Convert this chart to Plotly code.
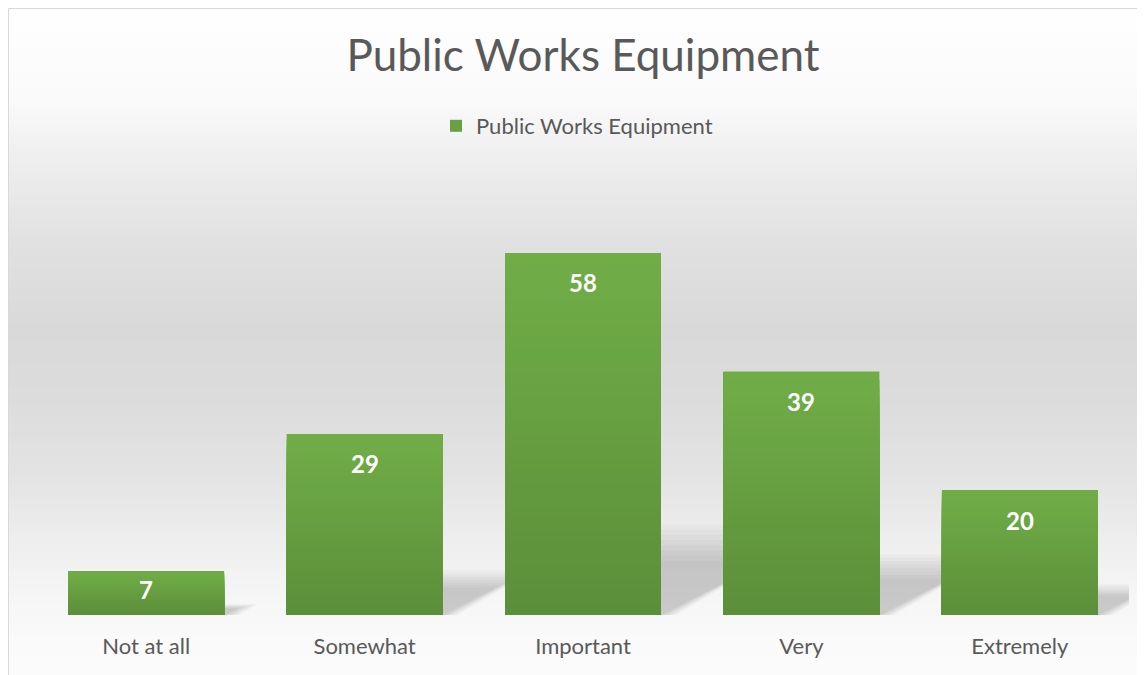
import plotly.graph_objects as go

# ---- data ----
categories = ["Not at all", "Somewhat", "Important", "Very", "Extremely"]
values = [7, 29, 58, 39, 20]
series_name = "Public Works Equipment"
chart_title = "Public Works Equipment"

# ---- geometry / style ----
OFF = 8  # page body margin (screen px -> figure px)
W, H = 1145 - OFF, 675 - OFF
# plot area in screen px: x 37..1129, y 178..615
ML = 37 - OFF
MR = W - (1129 - OFF)
MT = 178 - OFF
MB = H - (615 - OFF)
PW = W - ML - MR
PH = H - MT - MB
Y_MAX = 70
PX_PER_UNIT = PH / Y_MAX
BAR_W = 0.714
FONT = "Lato, 'Open Sans', sans-serif"
TXT = "#595959"
TOP_C = (112, 173, 71)
BOT_C = (92, 143, 58)


def px_to_paper_x(px):  # screen px
    return (px - OFF - ML) / PW


def px_to_paper_y(py):  # screen px
    return (H - MB - (py - OFF)) / PH


def lerp(a, b, t):
    return tuple(round(a[i] + (b[i] - a[i]) * t) for i in range(3))


shapes = []

# background gradient (paper)
bg_stops = [(0, 255), (100, 250), (150, 240), (200, 232), (250, 224), (330, 217),
            (400, 220), (480, 228), (540, 238), (600, 246), (640, 250), (700, 252)]


def bg_gray(py):
    for (y0, g0), (y1, g1) in zip(bg_stops[:-1], bg_stops[1:]):
        if y0 <= py <= y1:
            t = (py - y0) / (y1 - y0)
            return round(g0 + (g1 - g0) * t)
    return bg_stops[-1][1]


step = 4
py = 8
while py < 680:
    g = bg_gray(py + step / 2)
    shapes.append(dict(type="rect", xref="paper", yref="paper", layer="below",
                       x0=px_to_paper_x(8), x1=px_to_paper_x(1150),
                       y0=px_to_paper_y(py + step + 1), y1=px_to_paper_y(py),
                       fillcolor=f"rgb({g},{g},{g})", line=dict(width=0)))
    py += step

# soft perspective shadows behind bars
hw = BAR_W / 2
n_sh = 8
for i, v in enumerate(values):
    for k in range(n_sh):
        f = k / (n_sh - 1)
        top = 0.25 * v * (1.0 - 0.4 * f)
        dx = 0.0105 * v * (1.15 - 0.35 * f)
        xr = i + hw + 0.07 * (1 - f)
        xl = i - hw
        path = (f"M {xl},0 L {xr},0 L {xr + dx},{top} L {xl + dx},{top} Z")
        shapes.append(dict(type="path", xref="x", yref="y", layer="below",
                           path=path, fillcolor="rgba(0,0,0,0.024)",
                           line=dict(width=0)))

# vertical gradient overlay on each bar
n_gr = 30
for i, v in enumerate(values):
    for j in range(n_gr):
        t = j / (n_gr - 1)
        c = lerp(TOP_C, BOT_C, t)
        shapes.append(dict(type="rect", xref="x", yref="y", layer="above",
                           x0=i - hw, x1=i + hw, y0=0, y1=v * (1 - j / n_gr),
                           fillcolor=f"rgb{c}", line=dict(width=0)))

# chart border (left and top edges visible)
shapes.append(dict(type="rect", xref="paper", yref="paper", layer="above",
                   x0=px_to_paper_x(8.5), x1=px_to_paper_x(1170),
                   y0=px_to_paper_y(700), y1=px_to_paper_y(8.5),
                   fillcolor="rgba(0,0,0,0)", line=dict(color="#d9d9d9", width=1)))

x_idx = list(range(len(categories)))

fig = go.Figure()
fig.add_trace(go.Bar(
    x=x_idx, y=values, name=series_name, width=BAR_W,
    marker=dict(color="rgb(104,160,66)", line=dict(width=0)),
    showlegend=True, hoverinfo="skip",
))

annotations = []
for i, v in enumerate(values):
    shift = min(30, v * PX_PER_UNIT / 2 - 4)
    annotations.append(dict(x=i, y=v, xref="x", yref="y", text=f"<b>{v}</b>",
                            showarrow=False, yshift=-shift, yanchor="middle",
                            font=dict(family=FONT, size=24, color="white")))

fig.update_layout(
    width=W, height=H,
    margin=dict(l=ML, r=MR, t=MT, b=MB, pad=0),
    paper_bgcolor="white",
    plot_bgcolor="rgba(0,0,0,0)",
    title=dict(text=chart_title, x=0.5, xref="paper", xanchor="center",
               y=1 - (56 - OFF) / H, yref="container", yanchor="middle",
               font=dict(family=FONT, size=44, color=TXT)),
    legend=dict(orientation="h", x=px_to_paper_x(436), xanchor="left",
                y=px_to_paper_y(126), yanchor="middle",
                font=dict(family=FONT, size=22, color=TXT),
                bgcolor="rgba(0,0,0,0)", itemwidth=30),
    xaxis=dict(range=[-0.5, len(categories) - 0.5], tickmode="array",
               tickvals=x_idx, ticktext=categories, showgrid=False,
               zeroline=False, showline=False, ticks="",
               ticklabelstandoff=16,
               tickfont=dict(family=FONT, size=22, color=TXT)),
    yaxis=dict(range=[0, Y_MAX], visible=False, showgrid=False, zeroline=False),
    shapes=shapes,
    annotations=annotations,
    bargap=0,
)

fig.write_html("out.html", config={"displayModeBar": False})
